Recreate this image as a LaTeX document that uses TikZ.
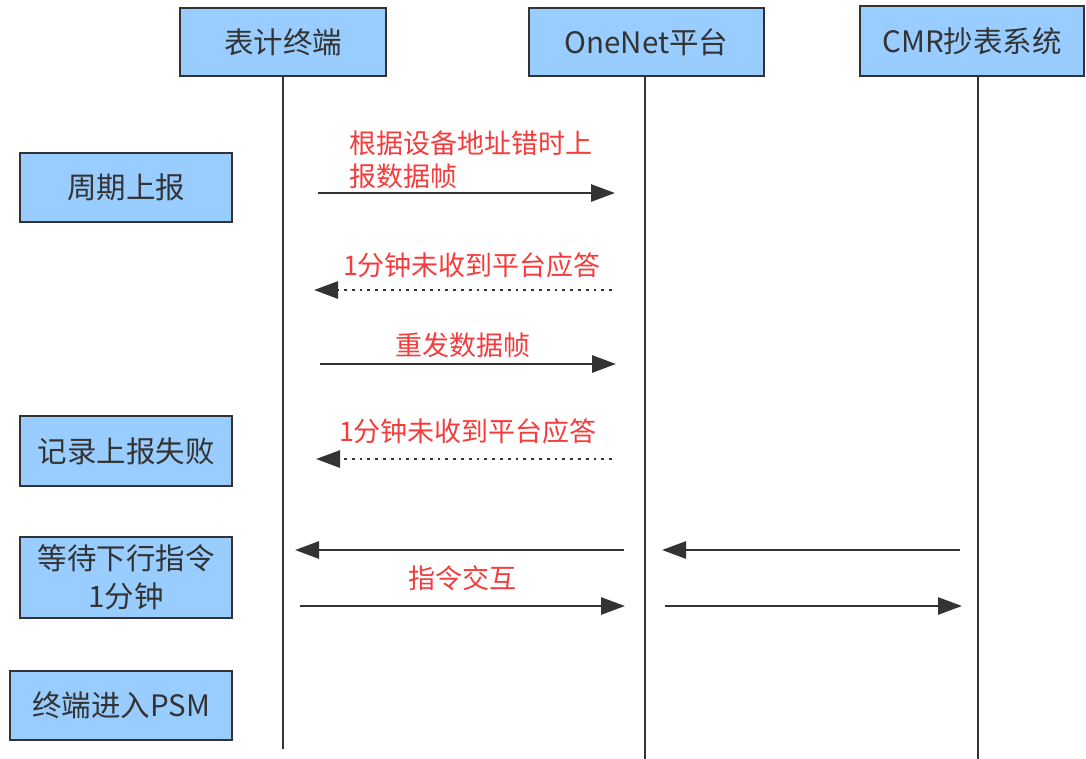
\documentclass[tikz,border=0pt]{standalone}
\usepackage{fontspec}
\setmainfont{Noto Sans CJK SC}
\usetikzlibrary{arrows.meta}
\definecolor{boxfill}{HTML}{99CCFF}
\definecolor{ink}{HTML}{333333}
\definecolor{lblred}{HTML}{F53B3B}
\begin{document}
\begin{tikzpicture}[x=1pt,y=-1pt,
  actor/.style={draw=ink, line width=2.8pt, fill=boxfill, text=ink, rectangle, inner sep=0pt,
    font=\fontsize{29.5}{32}\selectfont},
  statebox/.style={actor, align=center, font=\fontsize{29.5}{38}\selectfont},
  life/.style={draw=ink, line width=2.8pt},
  msg/.style={draw=ink, line width=2.8pt, -{Triangle[length=24pt,width=17pt]}},
  dotmsg/.style={msg, dash pattern=on 2.8pt off 5pt},
  lbl/.style={text=lblred, inner sep=0pt, font=\fontsize{27}{33}\selectfont}
]
\useasboundingbox (0,0) rectangle (1086,758);

% actors
\node[actor, minimum width=206pt, minimum height=68pt] (t1) at (283,42) {表计终端};
\node[actor, minimum width=235pt, minimum height=68pt] (t2) at (646.5,42) {OneNet平台};
\node[actor, minimum width=224pt, minimum height=70pt] (t3) at (972,41) {CMR抄表系统};

% lifelines
\coordinate (e1) at (283,749);
\coordinate (e2) at (645,760);
\coordinate (e3) at (978,760);
\draw[life] (t1.south -| e1) -- (e1);
\draw[life] (t2.south -| e2) -- (e2);
\draw[life] (t3.south -| e3) -- (e3);

% state boxes
\node[statebox, minimum width=212pt, minimum height=69pt] (s1) at (126,187.5) {周期上报};
\node[statebox, minimum width=212pt, minimum height=70pt] (s2) at (126,451) {记录上报失败};
\node[statebox, minimum width=212pt, minimum height=81pt] (s3) at (126,577.5) {等待下行指令\\1分钟};
\node[statebox, minimum width=222pt, minimum height=69pt] (s4) at (121,705.5) {终端进入PSM};

% message end points
\coordinate (a1s) at (318,193);  \coordinate (a1e) at (615,193);
\coordinate (a2s) at (612,290);  \coordinate (a2e) at (314,290);
\coordinate (a3s) at (320,364);  \coordinate (a3e) at (616,364);
\coordinate (a4s) at (612,459);  \coordinate (a4e) at (316,459);
\coordinate (a5s) at (624,550);  \coordinate (a5e) at (295,550);
\coordinate (a6s) at (960,550);  \coordinate (a6e) at (662,550);
\coordinate (a7s) at (300,606);  \coordinate (a7e) at (625,606);
\coordinate (a8s) at (665,606);  \coordinate (a8e) at (962,606);

\draw[msg] (a1s) -- (a1e);
\draw[dotmsg] (a2s) -- (a2e);
\draw[msg] (a3s) -- (a3e);
\draw[dotmsg] (a4s) -- (a4e);
\draw[msg] (a5s) -- (a5e);
\draw[msg] (a6s) -- (a6e);
\draw[msg] (a7s) -- (a7e);
\draw[msg] (a8s) -- (a8e);

% labels
\node[lbl, anchor=west, align=left] (l1) at (349,160) {根据设备地址错时上\\报数据帧};
\node[lbl] (l2) at (472,265) {1分钟未收到平台应答};
\node[lbl] (l3) at (463,345) {重发数据帧};
\node[lbl] (l4) at (468,431) {1分钟未收到平台应答};
\node[lbl] (l5) at (462,578) {指令交互};
\end{tikzpicture}
\end{document}
